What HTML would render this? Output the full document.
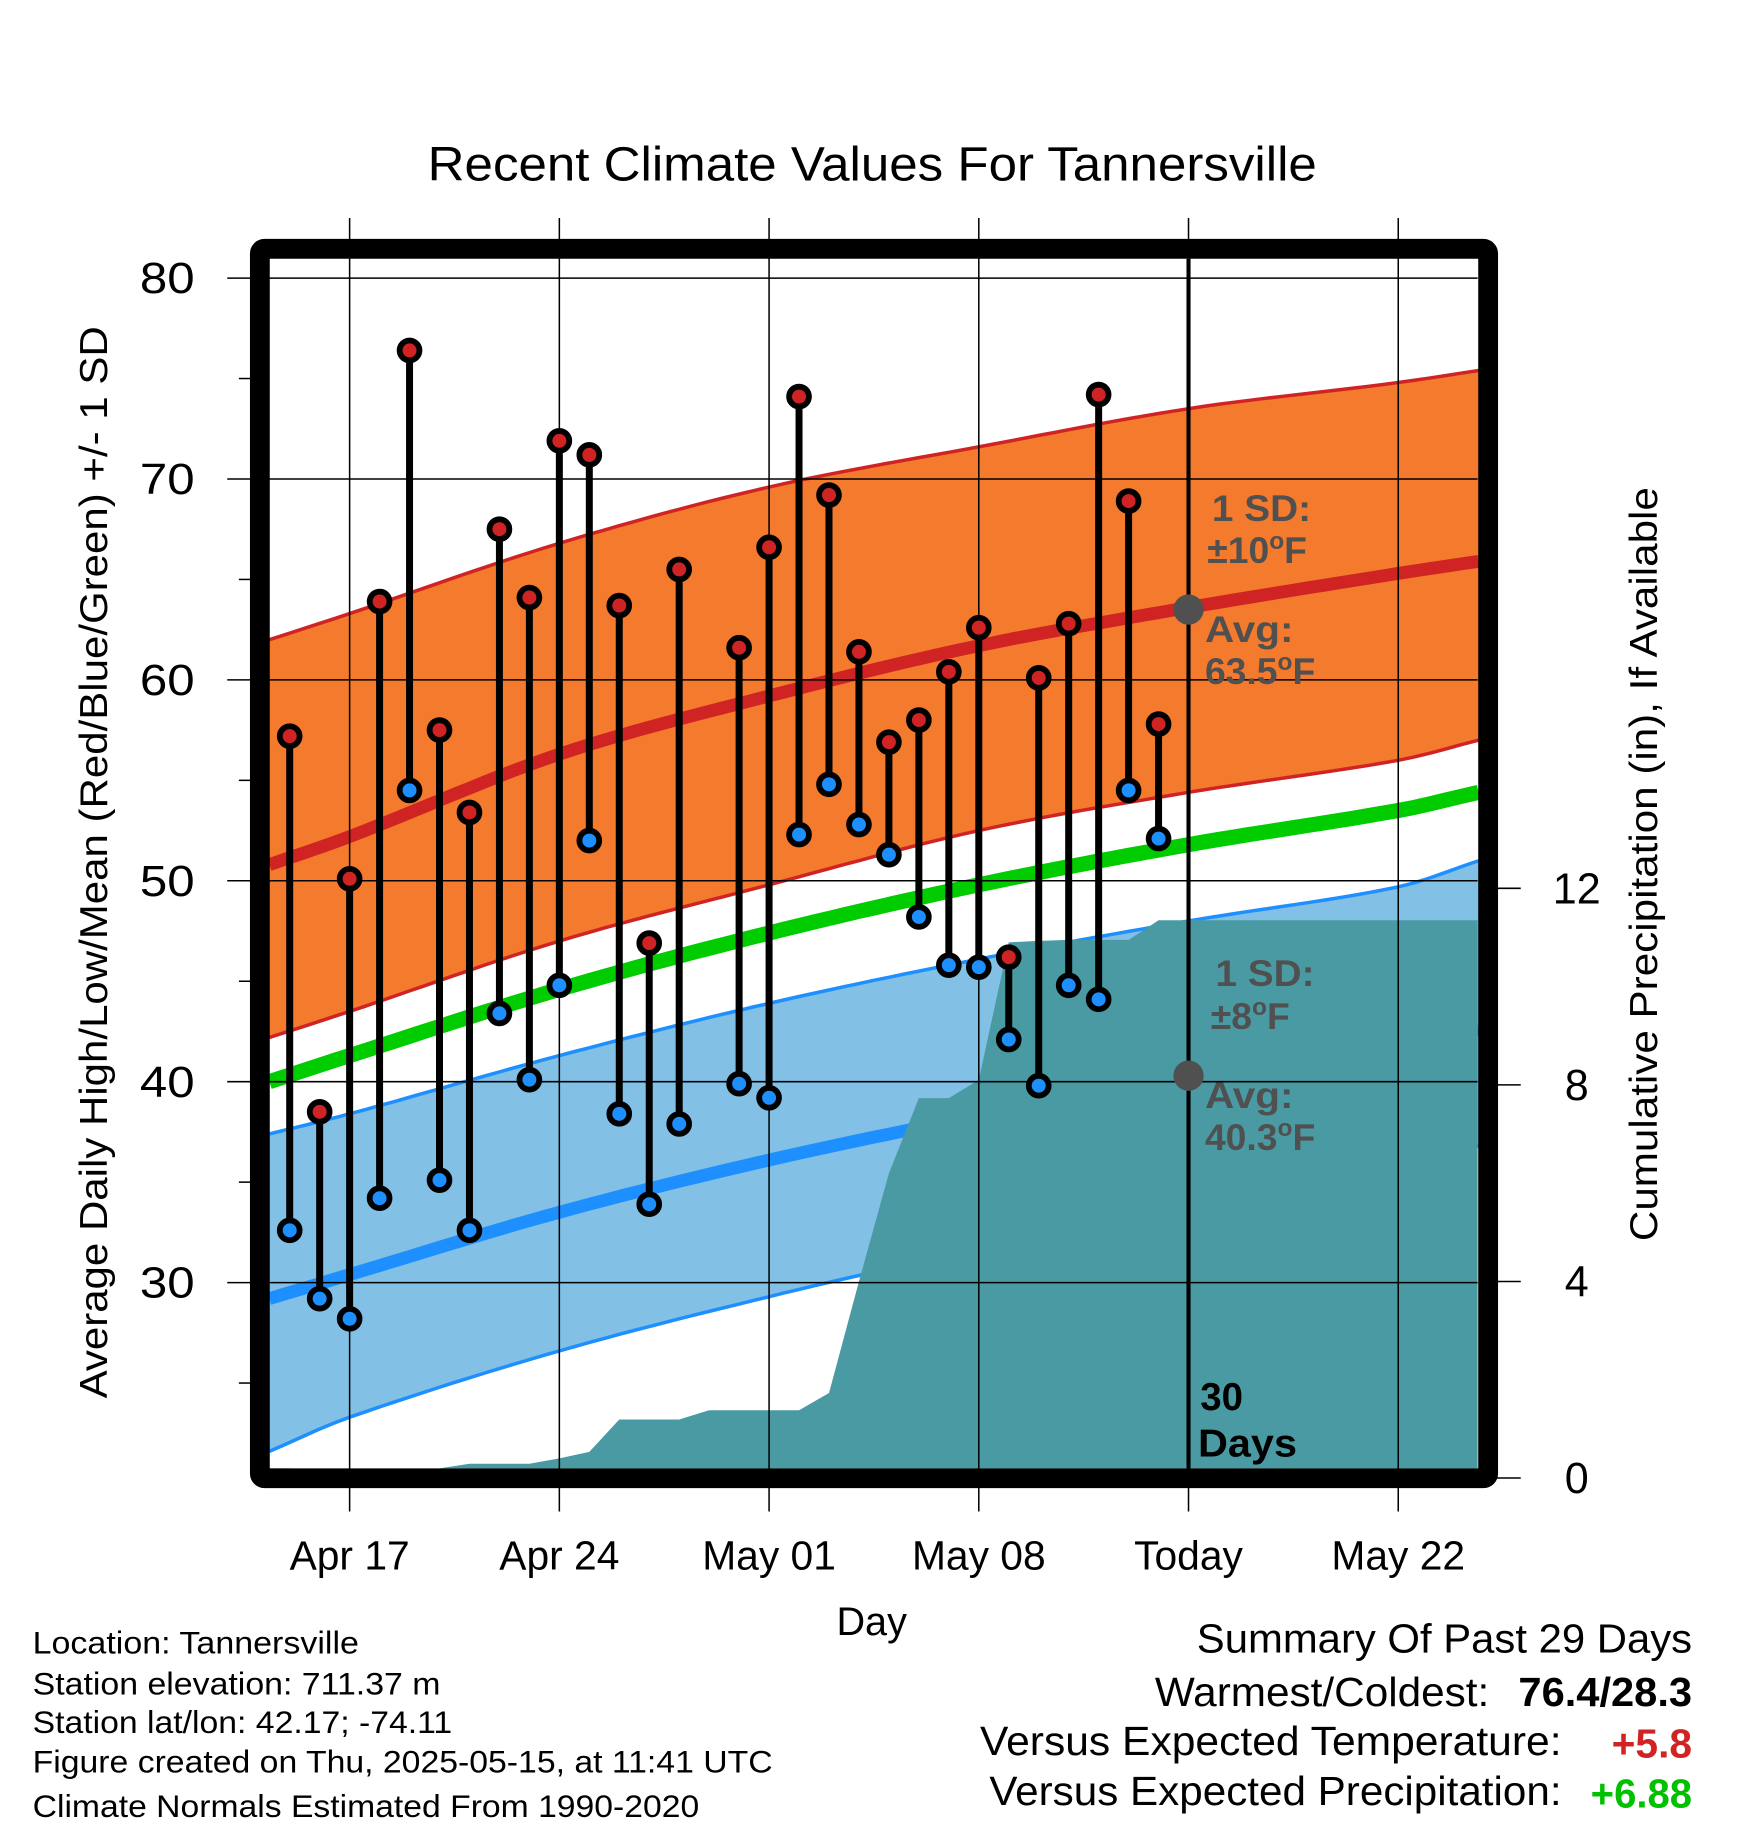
<!DOCTYPE html>
<html><head><meta charset="utf-8"><style>
html,body{margin:0;padding:0;background:#fff}
svg{display:block}
text{font-family:"Liberation Sans",Arial,sans-serif}
</style></head><body>
<svg id="chart" xmlns="http://www.w3.org/2000/svg" width="1748" height="1828" viewBox="0 0 1500 1568.6">
<rect width="1500" height="1568.6" fill="#fff"/>
<g id="bands"></g>
<g id="grid"></g>
<g id="marks"></g>
<g id="frame"></g>
<g id="labels"></g>
</svg>
<script>
// ---- data ----
const highs = [57.2,38.5,50.1,63.9,76.4,57.5,53.4,67.5,64.1,71.9,71.2,63.7,46.9,65.5,null,61.6,66.6,74.1,69.2,61.4,56.9,58.0,60.4,62.6,46.2,60.1,62.8,74.2,68.9,57.8];
const lows  = [32.6,29.2,28.2,34.2,54.5,35.1,32.6,43.4,40.1,44.8,52.0,38.4,33.9,37.9,null,39.9,39.2,52.3,54.8,52.8,51.3,48.2,45.8,45.7,42.1,39.8,44.8,44.1,54.5,52.1];
const precipCum = [0,0,0,0,0,0,0.29,0.29,0.29,0.4,0.53,1.19,1.19,1.19,1.38,1.38,1.38,1.38,1.73,4.0,6.2,7.73,7.73,8.1,10.9,10.93,10.95,10.95,10.95,11.35];
// normals sampled at day offsets from Apr 15 (day 0)
const normDays  = [-0.68,2,9,16,23,30,37,39.68];
const highAvg   = [50.8,52.2,56.3,59.2,61.7,63.6,65.3,65.9];
const highUpper = [62.0,63.3,66.8,69.6,71.6,73.5,74.8,75.4];
const highLower = [42.2,43.5,47.0,49.8,52.5,54.4,56.0,57.0];
const meanAvg   = [40.0,41.3,44.6,47.4,49.8,51.8,53.5,54.4];
const lowAvg    = [29.2,30.4,33.5,36.1,38.3,40.3,41.9,42.6];
const lowUpper  = [37.4,38.4,41.3,43.9,46.1,48.0,49.7,51.0];
const lowLower  = [21.6,23.3,26.6,29.3,31.7,34.0,36.0,36.8];
const yTicks = [30,40,50,60,70,80];
const pTicks = [0,4,8,12];
const xTickDays = [2,9,16,23,30,37];
const xTickLabels = ["Apr 17","Apr 24","May 01","May 08","Today","May 22"];

// ---- axes ----
const X0=231, X1=1268, Y0=222, Y1=1260;
const x = d => 248.6 + d*25.71;
const y = v => 238.6 + (80 - v)*17.24;
const yp = p => 1268.3 - p*42.17;
const NS="http://www.w3.org/2000/svg";
function mk(parent, tag, attrs, txt){const e=document.createElementNS(NS,tag);for(const k in attrs)e.setAttribute(k,attrs[k]);if(txt!=null)e.textContent=txt;document.getElementById(parent).appendChild(e);return e;}
// non-uniform Hermite interpolation
function sample(vs){
  const n=normDays.length, D=normDays, m=[];
  for(let k=0;k<n;k++){const a=Math.max(k-1,0),b=Math.min(k+1,n-1);m.push((vs[b]-vs[a])/(D[b]-D[a]));}
  const out=[];
  for(let k=0;k<n-1;k++){const h=D[k+1]-D[k];const steps=Math.max(2,Math.round(h*2));
    for(let s=0;s<steps;s++){const t=s/steps,t2=t*t,t3=t2*t;
      const v=(2*t3-3*t2+1)*vs[k]+(t3-2*t2+t)*h*m[k]+(-2*t3+3*t2)*vs[k+1]+(t3-t2)*h*m[k+1];
      out.push([D[k]+h*t,v]);}}
  out.push([D[n-1],vs[n-1]]);return out;}
const pts = (vs)=>sample(vs).map(p=>x(p[0]).toFixed(1)+","+y(p[1]).toFixed(1));
function band(up,lo){return pts(up).concat(pts(lo).reverse()).join(" ");}

let e;
e=mk("bands","polygon",{points:band(highUpper,highLower),fill:"#f47a2d"});


e=mk("bands","polyline",{points:pts(highUpper).join(" "),fill:"none",stroke:"#d02424","stroke-width":3});


e=mk("bands","polyline",{points:pts(highLower).join(" "),fill:"none",stroke:"#d02424","stroke-width":3});


e=mk("bands","polyline",{points:pts(highAvg).join(" "),fill:"none",stroke:"#d02424","stroke-width":11});


e=mk("bands","polygon",{points:band(lowUpper,lowLower),fill:"#82c0e6"});


e=mk("bands","polyline",{points:pts(lowUpper).join(" "),fill:"none",stroke:"#1e8fff","stroke-width":3});


e=mk("bands","polyline",{points:pts(lowLower).join(" "),fill:"none",stroke:"#1e8fff","stroke-width":3});


e=mk("bands","polyline",{points:pts(meanAvg).join(" "),fill:"none",stroke:"#00cc00","stroke-width":13});


e=mk("bands","polyline",{points:pts(lowAvg).join(" "),fill:"none",stroke:"#1e8fff","stroke-width":11});



// precipitation area
let pp=[X0+","+Y1];
pp.push(X0+","+yp(precipCum[0]).toFixed(1));
precipCum.forEach((p,i)=>pp.push(x(i).toFixed(1)+","+Math.min(yp(p),Y1).toFixed(1)));
pp.push(X1+","+yp(precipCum[precipCum.length-1]).toFixed(1));
pp.push(X1+","+Y1);
e=mk("bands","polygon",{points:pp.join(" "),fill:"#4a9aa4"});



e=mk("bands","rect",{x:0,y:0,width:X0,height:1568,fill:"#fff"});



// grid
yTicks.forEach(v=>{
  e=mk("grid","line",{x1:195,x2:X1,y1:y(v),y2:y(v),stroke:"#000","stroke-width":1.3});
  
  
  e=mk("labels","text",{x:167,y:y(v)+13,"text-anchor":"end","font-size":37,textLength:47,lengthAdjust:"spacingAndGlyphs"},String(v));
  
  
});
for(let v=25;v<80;v+=10){
  e=mk("grid","line",{x1:205,x2:215,y1:y(v),y2:y(v),stroke:"#000","stroke-width":1.3});
  
  
}
xTickDays.forEach((d,i)=>{
  e=mk("grid","line",{x1:x(d),x2:x(d),y1:187,y2:1297,stroke:"#000","stroke-width":1.3});
  
  
  e=mk("labels","text",{x:x(d),y:1347,"text-anchor":"middle","font-size":35},xTickLabels[i]);
  
  
});
pTicks.forEach(p=>{
  e=mk("grid","line",{x1:1280,x2:1305,y1:yp(p),y2:yp(p),stroke:"#000","stroke-width":1.3});
  
  
  e=mk("labels","text",{x:1353,y:yp(p)+13,"text-anchor":"middle","font-size":37},String(p));
  
  
});
e=mk("grid","line",{x1:x(30),x2:x(30),y1:Y0,y2:Y1,stroke:"#000","stroke-width":3.5});



highs.forEach((h,i)=>{
  const l=lows[i]; if(h==null||l==null) return;
  e=mk("marks","line",{x1:x(i),x2:x(i),y1:y(h),y2:y(l),stroke:"#000","stroke-width":6});
  
  
});
highs.forEach((h,i)=>{
  if(h==null) return;
  e=mk("marks","circle",{cx:x(i),cy:y(h),r:8.5,fill:"#d02424",stroke:"#000","stroke-width":5});
  
  
});
lows.forEach((l,i)=>{
  if(l==null) return;
  e=mk("marks","circle",{cx:x(i),cy:y(l),r:8.5,fill:"#1e8fff",stroke:"#000","stroke-width":5});
  
  
});
e=mk("marks","circle",{cx:x(30),cy:y(63.5),r:13,fill:"#505050"});


e=mk("marks","circle",{cx:x(30),cy:y(40.3),r:13,fill:"#505050"});


</script>
<script>
(function(){
const NS="http://www.w3.org/2000/svg";
function t(parent,attrs,html,name){const el=document.createElementNS(NS,"text");for(const k in attrs)el.setAttribute(k,attrs[k]);el.innerHTML=html;document.getElementById(parent).appendChild(el);


return el;}
const g="#505050";
const b={"font-size":32,"font-weight":"bold",fill:g};
function o(a){return Object.assign({},b,a);}
t("marks",o({x:1040,y:447,textLength:85,lengthAdjust:"spacingAndGlyphs"}),"1 SD:","high-sd-label");
t("marks",o({x:1036,y:483}),"±10<tspan dy='-12' font-size='21'>o</tspan><tspan dy='12'>F</tspan>","high-sd-value");
t("marks",o({x:1034,y:551,textLength:76,lengthAdjust:"spacingAndGlyphs"}),"Avg:","high-avg-label");
t("marks",o({x:1034,y:587}),"63.5<tspan dy='-12' font-size='21'>o</tspan><tspan dy='12'>F</tspan>","high-avg-value");
t("marks",o({x:1043,y:846,textLength:85,lengthAdjust:"spacingAndGlyphs"}),"1 SD:","low-sd-label");
t("marks",o({x:1039,y:883}),"±8<tspan dy='-12' font-size='21'>o</tspan><tspan dy='12'>F</tspan>","low-sd-value");
t("marks",o({x:1034,y:951,textLength:76,lengthAdjust:"spacingAndGlyphs"}),"Avg:","low-avg-label");
t("marks",o({x:1034,y:987}),"40.3<tspan dy='-12' font-size='21'>o</tspan><tspan dy='12'>F</tspan>","low-avg-value");
t("marks",{x:1030,y:1210,"font-size":33,"font-weight":"bold",fill:"#000"},"30","days-count");
t("marks",{x:1028,y:1250,"font-size":33,"font-weight":"bold",fill:"#000",textLength:85,lengthAdjust:"spacingAndGlyphs"},"Days","days-label");
})();
</script>
<script>
(function(){
const NS="http://www.w3.org/2000/svg";
const f=document.getElementById("frame");
const r=document.createElementNS(NS,"rect");
r.setAttribute("x",223);r.setAttribute("y",213.5);r.setAttribute("width",1054);r.setAttribute("height",1055);r.setAttribute("rx",4);
r.setAttribute("fill","none");r.setAttribute("stroke","#000");r.setAttribute("stroke-width",17);


f.appendChild(r);
const L=document.getElementById("labels");
function t(attrs,html,name){const el=document.createElementNS(NS,"text");for(const k in attrs)el.setAttribute(k,attrs[k]);el.innerHTML=html;L.appendChild(el);


return el;}
const la="spacingAndGlyphs";
t({x:367,y:155,"font-size":41,textLength:763,lengthAdjust:la},"Recent Climate Values For Tannersville","chart-title");
t({x:748,y:1403,"text-anchor":"middle","font-size":34},"Day","x-axis-title");
t({x:-1200,y:92,"font-size":33,textLength:920,lengthAdjust:la,transform:"rotate(-90)"},"Average Daily High/Low/Mean (Red/Blue/Green) +/- 1 SD","y-axis-title");
t({x:-1065,y:1422,"font-size":33,textLength:647,lengthAdjust:la,transform:"rotate(-90)"},"Cumulative Precipitation (in), If Available","precip-axis-title");
const left=["Location: Tannersville","Station elevation: 711.37 m","Station lat/lon: 42.17; -74.11","Figure created on Thu, 2025-05-15, at 11:41 UTC","Climate Normals Estimated From 1990-2020"];
const lw=[280,350,360,635,572];
const ly=[1419,1454,1487,1521,1559];
left.forEach((s,i)=>t({x:28,y:ly[i],"font-size":27,textLength:lw[i],lengthAdjust:la},s,"footer-info-line"));
t({x:1027,y:1418,"font-size":35,textLength:425,lengthAdjust:la},"Summary Of Past 29 Days","summary-title");
t({x:991,y:1464,"font-size":35,textLength:287,lengthAdjust:la},"Warmest/Coldest:","warmest-coldest-label");
t({x:1303,y:1464,"font-size":35,"font-weight":"bold",textLength:149,lengthAdjust:la},"76.4/28.3","warmest-coldest-value");
t({x:841,y:1506,"font-size":35,textLength:499,lengthAdjust:la},"Versus Expected Temperature:","temp-anomaly-label");
t({x:1383,y:1508,"font-size":35,"font-weight":"bold",fill:"#d02424",textLength:69,lengthAdjust:la},"+5.8","temp-anomaly-value");
t({x:849,y:1549,"font-size":35,textLength:491,lengthAdjust:la},"Versus Expected Precipitation:","precip-anomaly-label");
t({x:1365,y:1551,"font-size":35,"font-weight":"bold",fill:"#00c000",textLength:87,lengthAdjust:la},"+6.88","precip-anomaly-value");
})();
</script>
</body></html>
